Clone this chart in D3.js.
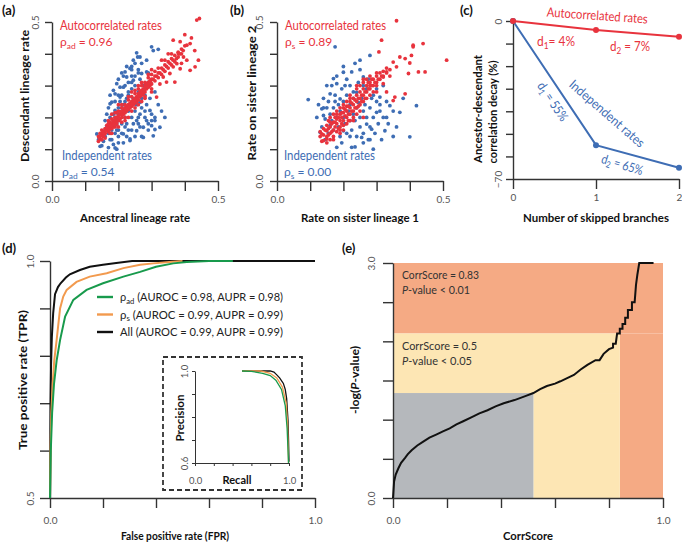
<!DOCTYPE html>
<html><head><meta charset="utf-8">
<script src="https://cdn.jsdelivr.net/npm/d3@7"></script>
<style>
body{margin:0;background:#fff}
text{font-family:Lato,"Open Sans","DejaVu Sans",sans-serif}
</style>
</head><body>
<svg id="c" width="682" height="542"></svg>
<script>
// ---------------- DATA ----------------
// (a) ancestral vs descendant rate
const redA = [[0.14,0.14],[0.14,0.125],[0.145,0.15],[0.145,0.132],[0.15,0.145],[0.15,0.16],[0.15,0.13],[0.155,0.155],[0.155,0.14],[0.16,0.165],[0.16,0.15],[0.16,0.135],[0.165,0.16],[0.165,0.175],[0.17,0.17],[0.17,0.155],[0.17,0.18],[0.175,0.165],[0.175,0.185],[0.175,0.15],[0.18,0.18],[0.18,0.165],[0.18,0.195],[0.185,0.19],[0.185,0.17],[0.19,0.185],[0.19,0.2],[0.19,0.17],[0.195,0.2],[0.195,0.18],[0.195,0.215],[0.2,0.205],[0.2,0.19],[0.2,0.22],[0.205,0.21],[0.205,0.195],[0.21,0.215],[0.21,0.2],[0.21,0.23],[0.215,0.225],[0.215,0.21],[0.22,0.23],[0.22,0.215],[0.22,0.24],[0.22,0.2],[0.225,0.235],[0.225,0.22],[0.23,0.24],[0.23,0.225],[0.23,0.255],[0.235,0.245],[0.235,0.23],[0.24,0.25],[0.24,0.235],[0.24,0.265],[0.245,0.255],[0.245,0.24],[0.25,0.26],[0.25,0.245],[0.25,0.275],[0.25,0.23],[0.255,0.265],[0.255,0.25],[0.26,0.275],[0.26,0.255],[0.26,0.29],[0.265,0.28],[0.265,0.265],[0.27,0.285],[0.27,0.27],[0.27,0.3],[0.275,0.29],[0.275,0.275],[0.28,0.3],[0.28,0.28],[0.28,0.31],[0.285,0.305],[0.285,0.29],[0.29,0.31],[0.29,0.295],[0.29,0.325],[0.295,0.315],[0.295,0.3],[0.3,0.32],[0.3,0.305],[0.3,0.335],[0.31,0.33],[0.31,0.315],[0.31,0.345],[0.32,0.34],[0.32,0.325],[0.32,0.355],[0.33,0.355],[0.33,0.335],[0.34,0.365],[0.34,0.345],[0.34,0.38],[0.35,0.375],[0.35,0.355],[0.36,0.385],[0.36,0.365],[0.36,0.4],[0.37,0.395],[0.37,0.375],[0.38,0.405],[0.38,0.39],[0.39,0.415],[0.39,0.4],[0.4,0.425],[0.365,0.443],[0.386,0.438],[0.406,0.427],[0.416,0.432],[0.381,0.401],[0.396,0.39],[0.406,0.38],[0.376,0.369],[0.386,0.353],[0.416,0.348],[0.441,0.38],[0.431,0.359],[0.345,0.311],[0.37,0.311],[0.335,0.327],[0.355,0.338],[0.365,0.359],[0.436,0.506],[0.444,0.511],[0.315,0.264],[0.42,0.45],[0.4,0.46],[0.35,0.4],[0.33,0.38],[0.3,0.28],[0.28,0.26],[0.26,0.3],[0.24,0.28],[0.3,0.35],[0.43,0.41],[0.39,0.37],[0.325,0.305],[0.2,0.24],[0.23,0.2],[0.18,0.21],[0.27,0.25],[0.1425,0.137],[0.1475,0.142],[0.1525,0.152],[0.1575,0.147],[0.1625,0.158],[0.1675,0.167],[0.1725,0.162],[0.1775,0.175],[0.1825,0.183],[0.1875,0.178],[0.1925,0.192],[0.1975,0.19],[0.2025,0.198],[0.2075,0.218],[0.2125,0.208],[0.2175,0.218],[0.2225,0.225],[0.2275,0.228],[0.2325,0.232],[0.2375,0.24],[0.2425,0.245],[0.2475,0.25],[0.2525,0.255],[0.2575,0.26],[0.2625,0.268],[0.2675,0.272],[0.2725,0.28],[0.2775,0.285],[0.2825,0.295],[0.2875,0.298],[0.2925,0.305],[0.2975,0.31],[0.305,0.32],[0.315,0.33],[0.325,0.34],[0.335,0.35],[0.345,0.36],[0.355,0.37],[0.365,0.38],[0.375,0.385],[0.385,0.4],[0.395,0.41],[0.2,0.17],[0.21,0.185],[0.22,0.19],[0.24,0.22],[0.26,0.24],[0.28,0.265],[0.3,0.29],[0.18,0.15],[0.17,0.19],[0.19,0.215],[0.21,0.24],[0.23,0.265],[0.25,0.285],[0.27,0.31],[0.29,0.335]];
const blueA = [[0.145,0.109],[0.17,0.105],[0.195,0.1],[0.15,0.111],[0.19,0.104],[0.135,0.148],[0.14,0.13],[0.155,0.125],[0.16,0.14],[0.165,0.169],[0.175,0.2],[0.175,0.243],[0.18,0.248],[0.185,0.285],[0.19,0.274],[0.19,0.222],[0.195,0.179],[0.195,0.306],[0.205,0.295],[0.205,0.264],[0.215,0.295],[0.215,0.148],[0.22,0.343],[0.225,0.327],[0.235,0.354],[0.235,0.132],[0.235,0.127],[0.24,0.36],[0.245,0.317],[0.25,0.14],[0.255,0.403],[0.258,0.39],[0.255,0.158],[0.26,0.2],[0.265,0.248],[0.27,0.338],[0.275,0.169],[0.275,0.137],[0.285,0.343],[0.285,0.19],[0.295,0.222],[0.3,0.422],[0.3,0.174],[0.31,0.162],[0.305,0.41],[0.305,0.142],[0.32,0.414],[0.325,0.169],[0.17,0.15],[0.18,0.16],[0.18,0.13],[0.185,0.19],[0.19,0.2],[0.19,0.15],[0.2,0.23],[0.2,0.19],[0.2,0.16],[0.205,0.25],[0.21,0.21],[0.21,0.18],[0.21,0.27],[0.215,0.24],[0.22,0.2],[0.22,0.3],[0.22,0.17],[0.225,0.26],[0.23,0.22],[0.23,0.28],[0.23,0.31],[0.23,0.16],[0.235,0.24],[0.24,0.2],[0.24,0.29],[0.24,0.33],[0.245,0.18],[0.245,0.26],[0.25,0.22],[0.25,0.3],[0.255,0.24],[0.26,0.28],[0.26,0.18],[0.265,0.32],[0.265,0.21],[0.27,0.26],[0.27,0.23],[0.275,0.3],[0.28,0.2],[0.28,0.27],[0.285,0.24],[0.29,0.31],[0.29,0.18],[0.295,0.26],[0.3,0.21],[0.31,0.28],[0.31,0.19],[0.32,0.24],[0.2,0.32],[0.215,0.33],[0.25,0.37],[0.27,0.37],[0.26,0.35],[0.285,0.38],[0.16,0.19],[0.165,0.21],[0.17,0.23],[0.2,0.12],[0.225,0.14],[0.215,0.12],[0.34,0.2],[0.33,0.22],[0.2,0.21],[0.21,0.23],[0.22,0.25],[0.23,0.27],[0.24,0.31],[0.25,0.33],[0.26,0.34],[0.2,0.27],[0.19,0.25],[0.185,0.21],[0.18,0.18],[0.195,0.16],[0.21,0.15],[0.225,0.18],[0.24,0.16],[0.255,0.19],[0.265,0.17],[0.27,0.14],[0.29,0.16],[0.3,0.19],[0.31,0.2],[0.28,0.22],[0.265,0.27],[0.28,0.29],[0.29,0.34],[0.24,0.35],[0.225,0.36],[0.21,0.34],[0.245,0.38],[0.265,0.39],[0.175,0.27],[0.17,0.17],[0.16,0.16],[0.175,0.13],[0.2,0.14],[0.185,0.115]];
// (b) sister lineages
const redB = [[0.511,0.38],[0.44,0.432],[0.41,0.422],[0.405,0.395],[0.386,0.385],[0.37,0.39],[0.35,0.374],[0.36,0.359],[0.396,0.338],[0.426,0.343],[0.446,0.343],[0.386,0.274],[0.35,0.253],[0.32,0.327],[0.33,0.343],[0.36,0.504],[0.315,0.443],[0.307,0.406],[0.41,0.427],[0.4,0.371],[0.355,0.264],[0.32,0.306],[0.33,0.28],[0.13,0.14],[0.13,0.155],[0.135,0.148],[0.135,0.125],[0.14,0.127],[0.14,0.165],[0.14,0.145],[0.15,0.132],[0.15,0.158],[0.15,0.175],[0.15,0.12],[0.155,0.145],[0.155,0.19],[0.16,0.15],[0.16,0.17],[0.16,0.13],[0.16,0.2],[0.17,0.16],[0.17,0.185],[0.17,0.14],[0.17,0.21],[0.175,0.17],[0.175,0.2],[0.18,0.155],[0.18,0.18],[0.18,0.22],[0.18,0.195],[0.19,0.17],[0.19,0.19],[0.19,0.21],[0.19,0.23],[0.19,0.15],[0.195,0.2],[0.195,0.18],[0.2,0.16],[0.2,0.19],[0.2,0.215],[0.2,0.24],[0.21,0.2],[0.21,0.22],[0.21,0.18],[0.21,0.25],[0.21,0.235],[0.215,0.21],[0.215,0.19],[0.22,0.23],[0.22,0.21],[0.22,0.25],[0.22,0.27],[0.22,0.19],[0.23,0.22],[0.23,0.24],[0.23,0.26],[0.23,0.2],[0.24,0.23],[0.24,0.25],[0.24,0.27],[0.24,0.29],[0.24,0.21],[0.25,0.24],[0.25,0.26],[0.25,0.28],[0.25,0.3],[0.26,0.25],[0.26,0.27],[0.26,0.29],[0.26,0.31],[0.27,0.28],[0.27,0.3],[0.27,0.26],[0.27,0.32],[0.28,0.29],[0.28,0.3],[0.28,0.31],[0.28,0.33],[0.29,0.3],[0.29,0.32],[0.29,0.28],[0.3,0.31],[0.3,0.33],[0.3,0.34],[0.3,0.3],[0.31,0.32],[0.31,0.34],[0.32,0.33],[0.32,0.345],[0.33,0.34],[0.33,0.355],[0.34,0.33],[0.34,0.35],[0.145,0.16],[0.155,0.165],[0.165,0.155],[0.165,0.18],[0.175,0.185],[0.185,0.2],[0.185,0.165],[0.195,0.215],[0.205,0.205],[0.205,0.225],[0.215,0.235],[0.225,0.22],[0.225,0.245],[0.235,0.23],[0.235,0.255],[0.245,0.26],[0.245,0.235],[0.255,0.27],[0.255,0.25],[0.265,0.28],[0.265,0.26],[0.275,0.29],[0.275,0.31],[0.285,0.3],[0.285,0.32],[0.295,0.31],[0.305,0.32],[0.315,0.33],[0.2,0.175],[0.19,0.16],[0.17,0.13],[0.23,0.19],[0.25,0.22],[0.26,0.2],[0.28,0.27],[0.3,0.28],[0.16,0.185],[0.18,0.21],[0.2,0.23],[0.22,0.26],[0.24,0.3],[0.26,0.32],[0.15,0.14]];
const blueB = [[0.175,0.422],[0.28,0.395],[0.235,0.37],[0.2,0.342],[0.17,0.322],[0.18,0.306],[0.225,0.343],[0.26,0.327],[0.094,0.256],[0.135,0.227],[0.145,0.195],[0.13,0.153],[0.18,0.106],[0.225,0.106],[0.29,0.1],[0.42,0.237],[0.37,0.216],[0.34,0.237],[0.325,0.158],[0.285,0.163],[0.27,0.179],[0.255,0.137],[0.3,0.216],[0.31,0.264],[0.16,0.274],[0.19,0.258],[0.24,0.279],[0.245,0.247],[0.22,0.19],[0.2,0.158],[0.16,0.174],[0.14,0.206],[0.4,0.139],[0.235,0.107],[0.15,0.23],[0.155,0.25],[0.16,0.21],[0.165,0.19],[0.17,0.23],[0.17,0.16],[0.175,0.27],[0.18,0.2],[0.185,0.24],[0.185,0.17],[0.19,0.22],[0.19,0.14],[0.195,0.29],[0.2,0.2],[0.2,0.25],[0.205,0.18],[0.21,0.27],[0.21,0.15],[0.215,0.22],[0.22,0.3],[0.22,0.24],[0.225,0.16],[0.23,0.21],[0.23,0.26],[0.235,0.19],[0.24,0.14],[0.24,0.23],[0.245,0.31],[0.25,0.2],[0.25,0.17],[0.255,0.26],[0.26,0.22],[0.26,0.15],[0.265,0.24],[0.27,0.2],[0.27,0.29],[0.275,0.13],[0.28,0.23],[0.28,0.17],[0.285,0.26],[0.29,0.2],[0.295,0.15],[0.3,0.25],[0.305,0.18],[0.31,0.22],[0.315,0.13],[0.32,0.2],[0.33,0.25],[0.335,0.18],[0.35,0.22],[0.36,0.17],[0.14,0.26],[0.15,0.3],[0.165,0.3],[0.12,0.2],[0.125,0.24],[0.135,0.17],[0.2,0.36],[0.25,0.35],[0.21,0.32],[0.155,0.15],[0.3,0.29],[0.275,0.32],[0.32,0.3],[0.38,0.26],[0.35,0.14],[0.26,0.12],[0.195,0.12],[0.145,0.13],[0.175,0.25],[0.205,0.3],[0.23,0.28],[0.26,0.3],[0.29,0.27],[0.31,0.24],[0.22,0.14],[0.28,0.13],[0.33,0.2],[0.25,0.38],[0.18,0.33],[0.14,0.23]];
// (c) correlation decay
const skipped = [0, 1, 2];
const decayAuto = [0, -4, -7];
const decayInd = [0, -55, -65];
// (d) ROC curves [FPR, TPR]
const rocAll = [[0,0.5],[0.001,0.6],[0.002,0.7],[0.004,0.78],[0.007,0.84],[0.012,0.89],[0.019,0.93],[0.03,0.945],[0.04,0.953],[0.06,0.965],[0.075,0.972],[0.113,0.981],[0.15,0.988],[0.2,0.992],[0.25,0.996],[0.31,1.0],[1.0,1.0]];
const rocRhoS = [[0,0.5],[0.002,0.6],[0.005,0.68],[0.01,0.74],[0.016,0.79],[0.025,0.833],[0.038,0.9],[0.05,0.925],[0.063,0.939],[0.1,0.956],[0.15,0.967],[0.214,0.974],[0.277,0.985],[0.34,0.992],[0.39,0.995],[0.45,0.998],[0.5,1.0]];
const rocRhoAd = [[0,0.5],[0.003,0.6],[0.008,0.68],[0.015,0.74],[0.025,0.79],[0.038,0.833],[0.057,0.883],[0.088,0.918],[0.138,0.939],[0.2,0.953],[0.277,0.967],[0.34,0.977],[0.4,0.988],[0.465,0.995],[0.516,0.998],[0.6,1.0],[0.69,1.0]];
// (d inset) PR curves [Recall, Precision]
const prAll = [[0.5,1],[0.8,1],[0.84,0.995],[0.87,0.983],[0.9,0.97],[0.94,0.946],[0.96,0.92],[0.975,0.88],[0.99,0.78],[0.995,0.7],[1.0,0.605]];
const prRhoS = [[0.5,1],[0.7,1],[0.8,0.99],[0.87,0.97],[0.93,0.93],[0.97,0.86],[0.985,0.77],[0.995,0.6]];
const prRhoAd = [[0.5,1],[0.6,0.998],[0.72,0.99],[0.8,0.98],[0.86,0.96],[0.92,0.92],[0.96,0.85],[0.98,0.75],[0.99,0.65],[0.995,0.6]];
const legendLabels = [["ad","(AUROC = 0.98, AUPR = 0.98)"],["s","(AUROC = 0.99, AUPR = 0.99)"],["All","(AUROC = 0.99, AUPR = 0.99)"]];
// (e) CorrScore vs -log(P)  (upper part is a staircase: corners listed)
const corrScore = [0,0.004,0.01,0.02,0.03,0.044,0.055,0.069,0.09,0.112,0.135,0.16,0.185,0.21,0.235,0.26,0.29,0.32,0.35,0.38,0.41,0.45,0.49,0.52,0.545,0.57,0.6,0.62,0.645,0.67,0.695,0.72,0.75,0.765,0.78,0.8,0.815,0.815,0.825,0.83,0.84,0.84,0.85,0.85,0.86,0.86,0.87,0.87,0.885,0.885,0.895,0.9,0.905,0.912,0.965];
const negLogP  = [0,0.21,0.3,0.38,0.45,0.51,0.56,0.61,0.67,0.72,0.77,0.81,0.85,0.89,0.94,0.98,1.03,1.08,1.12,1.17,1.21,1.25,1.3,1.34,1.39,1.43,1.46,1.49,1.53,1.57,1.64,1.7,1.76,1.76,1.84,1.9,1.92,1.97,1.97,2.1,2.1,2.16,2.16,2.22,2.22,2.3,2.3,2.4,2.4,2.5,2.5,2.72,2.85,3.0,3.0];
const scoreCuts = [0.52, 0.84];   // CorrScore boundaries of shaded zones
const pCuts = [1.34, 2.1];        // -log(P) boundaries of shaded zones

// ---------------- DRAWING ----------------
const RED = '#e8333d', BLUE = '#3e6db4', GREEN = '#189a4c', ORANGE = '#f29a4e';
const svg = d3.select('#c');
const fmt1 = d3.format('.1f');

function axes(x, y, o) {
  const isL = v => o.xLab.some(l => Math.abs(l - v) < 1e-9);
  const isLy = v => o.yLab.some(l => Math.abs(l - v) < 1e-9);
  const gx = svg.append('g').attr('transform', `translate(0,${y.range()[0]})`)
    .call(d3.axisBottom(x).tickValues(o.xT).tickSize(o.xs).tickSizeOuter(0).tickPadding(o.xp)
      .tickFormat(d => isL(d) ? (o.xf || fmt1)(d) : ''));
  const gy = svg.append('g').attr('transform', `translate(${x.range()[0]},0)`)
    .call(d3.axisLeft(y).tickValues(o.yT).tickSize(o.ys).tickSizeOuter(0)
      .tickFormat(d => isLy(d) ? (o.yf || fmt1)(d) : ''));
  gy.selectAll('text').attr('x', null).attr('dy', null).attr('text-anchor', 'middle')
    .attr('transform', `translate(${-o.yo},0) rotate(-90)`);
  [gx, gy].forEach(a => {
    a.select('.domain').attr('stroke', '#333').attr('stroke-width', o.sw || 1.4);
    a.selectAll('.tick line').attr('stroke', '#333').attr('stroke-width', o.sw || 1.4);
    a.selectAll('text').attr('fill', '#555').attr('font-size', o.fs || 10);
  });
}

function txt(x, y, parts, o = {}) {
  const fs = o.fs || 11;
  const t = svg.append('text').attr('x', x).attr('y', y).attr('font-size', fs)
    .attr('fill', o.fill || '#111').attr('text-anchor', o.anchor || 'start');
  if (o.bold) t.attr('font-weight', 'bold');
  if (!Array.isArray(parts)) parts = [[parts]];
  let down = false;
  parts.forEach(([s, type]) => {
    const ts = t.append('tspan').text(s);
    if (type === 'sub') { ts.attr('font-size', '70%').attr('dy', '0.3em'); down = true; }
    else if (down) { ts.attr('dy', '-0.21em'); down = false; }
    if (type === 'it') ts.attr('font-style', 'italic');
  });
  if (o.w) t.attr('textLength', o.w).attr('lengthAdjust', 'spacingAndGlyphs');
  if (o.rot != null) t.attr('transform', `rotate(${o.rot},${x},${y})`);
  return t;
}

// ----- panel labels
txt(2, 15, '(a)', {bold: true, fs: 13});
txt(230, 15, '(b)', {bold: true, fs: 13});
txt(460, 15, '(c)', {bold: true, fs: 13});
txt(2, 253, '(d)', {bold: true, fs: 13});
txt(342, 253, '(e)', {bold: true, fs: 13});

// ----- (a)
const xA = d3.scaleLinear([0, 0.5], [52, 218]);
const yA = d3.scaleLinear([0, 0.5], [181, 22]);
const t05 = [0, 0.1, 0.2, 0.3, 0.4, 0.5];
axes(xA, yA, {xT: t05, xLab: [0, 0.5], yT: t05, yLab: [0, 0.5], xs: 10, xp: 5, ys: 7, yo: 13});
svg.append('g').selectAll('circle').data(blueA).join('circle')
  .attr('cx', d => xA(d[0])).attr('cy', d => yA(d[1])).attr('r', 1.9).attr('fill', BLUE);
svg.append('g').selectAll('circle').data(redA).join('circle')
  .attr('cx', d => xA(d[0])).attr('cy', d => yA(d[1])).attr('r', 1.9).attr('fill', RED);
txt(60, 30, 'Autocorrelated rates', {fill: RED, fs: 12.5, w: 102});
txt(60, 46, [['ρ'], ['ad', 'sub'], [' = 0.96']], {fill: RED, fs: 12});
txt(62, 160, 'Independent rates', {fill: BLUE, fs: 12.5, w: 90});
txt(62, 176, [['ρ'], ['ad', 'sub'], [' = 0.54']], {fill: BLUE, fs: 12});
txt(135, 222, 'Ancestral lineage rate', {bold: true, anchor: 'middle', fs: 12, w: 110});
txt(29, 96, 'Descendant lineage rate', {bold: true, anchor: 'middle', fs: 12, w: 132, rot: -90});

// ----- (b)
const xB = d3.scaleLinear([0, 0.5], [277, 443]);
const yB = d3.scaleLinear([0, 0.5], [181, 22]);
axes(xB, yB, {xT: t05, xLab: [0, 0.5], yT: t05, yLab: [0, 0.5], xs: 10, xp: 5, ys: 7, yo: 14});
svg.append('g').selectAll('circle').data(blueB).join('circle')
  .attr('cx', d => xB(d[0])).attr('cy', d => yB(d[1])).attr('r', 1.9).attr('fill', BLUE);
svg.append('g').selectAll('circle').data(redB).join('circle')
  .attr('cx', d => xB(d[0])).attr('cy', d => yB(d[1])).attr('r', 1.9).attr('fill', RED);
txt(285, 30, 'Autocorrelated rates', {fill: RED, fs: 12.5, w: 101});
txt(285, 46, [['ρ'], ['s', 'sub'], [' = 0.89']], {fill: RED, fs: 12});
txt(284, 160, 'Independent rates', {fill: BLUE, fs: 12.5, w: 91});
txt(284, 176, [['ρ'], ['s', 'sub'], [' = 0.00']], {fill: BLUE, fs: 12});
txt(360, 222, 'Rate on sister lineage 1', {bold: true, anchor: 'middle', fs: 12, w: 118});
txt(256, 93, 'Rate on sister lineage 2', {bold: true, anchor: 'middle', fs: 12, w: 135, rot: -90});

// ----- (c)
const xC = d3.scaleLinear([0, 2], [513, 679]);
const yC = d3.scaleLinear([-70, 0], [179, 21]);
axes(xC, yC, {xT: skipped, xLab: skipped, xf: d3.format('d'), yT: d3.range(-70, 1, 10), yLab: [-70, 0], yf: d3.format('d'), xs: 10, xp: 5, ys: 7, yo: 11});
const lineC = d3.line().x((d, i) => xC(skipped[i])).y(d => yC(d));
[[decayInd, BLUE], [decayAuto, RED]].forEach(([vals, col]) => {
  svg.append('path').attr('d', lineC(vals)).attr('fill', 'none').attr('stroke', col).attr('stroke-width', 2);
  svg.append('g').selectAll('circle').data(vals).join('circle')
    .attr('cx', (d, i) => xC(skipped[i])).attr('cy', d => yC(d)).attr('r', 3).attr('fill', col);
});
txt(597, 20, 'Autocorrelated rates', {fill: RED, fs: 13, w: 101, anchor: 'middle', rot: 4});
txt(537, 46, [['d'], ['1', 'sub'], ['=  4%']], {fill: RED, fs: 13, w: 38});
txt(610, 51, [['d'], ['2', 'sub'], [' =  7%']], {fill: RED, fs: 13, w: 40});
txt(549, 104, [['d'], ['1', 'sub'], [' = 55%']], {fill: BLUE, fs: 13, w: 44, anchor: 'middle', rot: 56});
txt(604, 117, 'Independent rates', {fill: BLUE, fs: 13, w: 95, anchor: 'middle', rot: 41});
txt(621, 169, [['d'], ['2', 'sub'], [' = 65%']], {fill: BLUE, fs: 13, w: 43, anchor: 'middle', rot: 17});
txt(596, 222, 'Number of skipped branches', {bold: true, anchor: 'middle', fs: 12, w: 146});
txt(482, 109, 'Ancestor-descendant', {bold: true, anchor: 'middle', fs: 12, w: 108, rot: -90});
txt(497, 112, 'correlation decay (%)', {bold: true, anchor: 'middle', fs: 12, w: 103, rot: -90});

// ----- (d)
const xD = d3.scaleLinear([0, 1], [50, 315]);
const yD = d3.scaleLinear([0.5, 1], [498, 261]);
axes(xD, yD, {xT: [0, 0.2, 0.4, 0.6, 0.8, 1], xLab: [0, 1], yT: [0.5, 0.6, 0.7, 0.8, 0.9, 1], yLab: [0.5, 1], xs: 10, xp: 9, ys: 10, yo: 16});
const lineD = d3.line().x(d => xD(d[0])).y(d => yD(d[1]));
[[rocAll, '#111'], [rocRhoS, ORANGE], [rocRhoAd, GREEN]].forEach(([v, c]) => {
  svg.append('path').attr('d', lineD(v)).attr('fill', 'none').attr('stroke', c).attr('stroke-width', 2);
});
[GREEN, ORANGE, '#111'].forEach((c, i) => {
  const yy = 297 + i * 17.5;
  svg.append('line').attr('x1', 97).attr('x2', 113).attr('y1', yy).attr('y2', yy).attr('stroke', c).attr('stroke-width', 2.4);
  const lab = legendLabels[i];
  const parts = lab[0] === 'All' ? [['All  ' + lab[1]]] : [['ρ'], [lab[0], 'sub'], ['  ' + lab[1]]];
  txt(120, yy + 4, parts, {fs: 12, fill: '#222', w: 163});
});
txt(175, 540, 'False positive rate (FPR)', {bold: true, anchor: 'middle', fs: 12, w: 108});
txt(27, 380, 'True positive rate (TPR)', {bold: true, anchor: 'middle', fs: 12, w: 140, rot: -90});
// inset
svg.append('rect').attr('x', 163).attr('y', 357).attr('width', 139).attr('height', 133)
  .attr('fill', '#fff').attr('stroke', '#333').attr('stroke-width', 1.8).attr('stroke-dasharray', '5,3');
const xI = d3.scaleLinear([0, 1], [195, 289]);
const yI = d3.scaleLinear([0.6, 1], [463, 371]);
axes(xI, yI, {xT: [0, 0.2, 0.4, 0.6, 0.8, 1], xLab: [0, 1], yT: [0.6, 0.7, 0.8, 0.9, 1], yLab: [0.6, 1], xs: 3, xp: 11, ys: 3, yo: 7, sw: 1, fs: 9.5});
const lineI = d3.line().x(d => xI(d[0])).y(d => yI(d[1]));
[[prAll, '#111'], [prRhoS, ORANGE], [prRhoAd, GREEN]].forEach(([v, c]) => {
  svg.append('path').attr('d', lineI(v)).attr('fill', 'none').attr('stroke', c).attr('stroke-width', 1.3);
});
txt(237, 484, 'Recall', {bold: true, anchor: 'middle', fs: 11, w: 29});
txt(184, 418, 'Precision', {bold: true, anchor: 'middle', fs: 11, w: 47, rot: -90});

// ----- (e)
const xE = d3.scaleLinear([0, 1], [393, 663]);
const yE = d3.scaleLinear([0, 3], [498, 263]);
const zones = [
  {x0: 0, x1: 1, y0: pCuts[1], y1: 3, c: '#f5aa84'},
  {x0: scoreCuts[1], x1: 1, y0: 0, y1: pCuts[1], c: '#f5aa84'},
  {x0: 0, x1: scoreCuts[1], y0: pCuts[0], y1: pCuts[1], c: '#fde6b4'},
  {x0: scoreCuts[0], x1: scoreCuts[1], y0: 0, y1: pCuts[0], c: '#fde6b4'},
  {x0: 0, x1: scoreCuts[0], y0: 0, y1: pCuts[0], c: '#b5b8bc'}
];
svg.append('g').selectAll('rect').data(zones).join('rect')
  .attr('x', d => xE(d.x0)).attr('width', d => xE(d.x1) - xE(d.x0))
  .attr('y', d => yE(d.y1)).attr('height', d => yE(d.y0) - yE(d.y1)).attr('fill', d => d.c);
axes(xE, yE, {xT: [0, 0.2, 0.4, 0.6, 0.8, 1], xLab: [0, 1], yT: [0, 0.5, 1, 1.5, 2, 2.5, 3], yLab: [0, 3], xs: 10, xp: 9, ys: 10, yo: 18});
const lineE = d3.line().x((d, i) => xE(corrScore[i])).y(d => yE(d));
svg.append('path').attr('d', lineE(negLogP)).attr('fill', 'none').attr('stroke', '#111').attr('stroke-width', 2);
txt(402, 279, 'CorrScore = 0.83', {fs: 12, fill: '#333', w: 77});
txt(402, 294, [['P', 'it'], ['-value < 0.01']], {fs: 12, fill: '#333', w: 68});
txt(402, 350, 'CorrScore = 0.5', {fs: 12, fill: '#333', w: 75});
txt(402, 365, [['P', 'it'], ['-value < 0.05']], {fs: 12, fill: '#333', w: 70});
txt(528, 540, 'CorrScore', {bold: true, anchor: 'middle', fs: 12, w: 50});
txt(359, 380, [['-log('], ['P', 'it'], ['-value)']], {bold: true, anchor: 'middle', fs: 12, w: 68, rot: -90});
</script>
</body></html>
